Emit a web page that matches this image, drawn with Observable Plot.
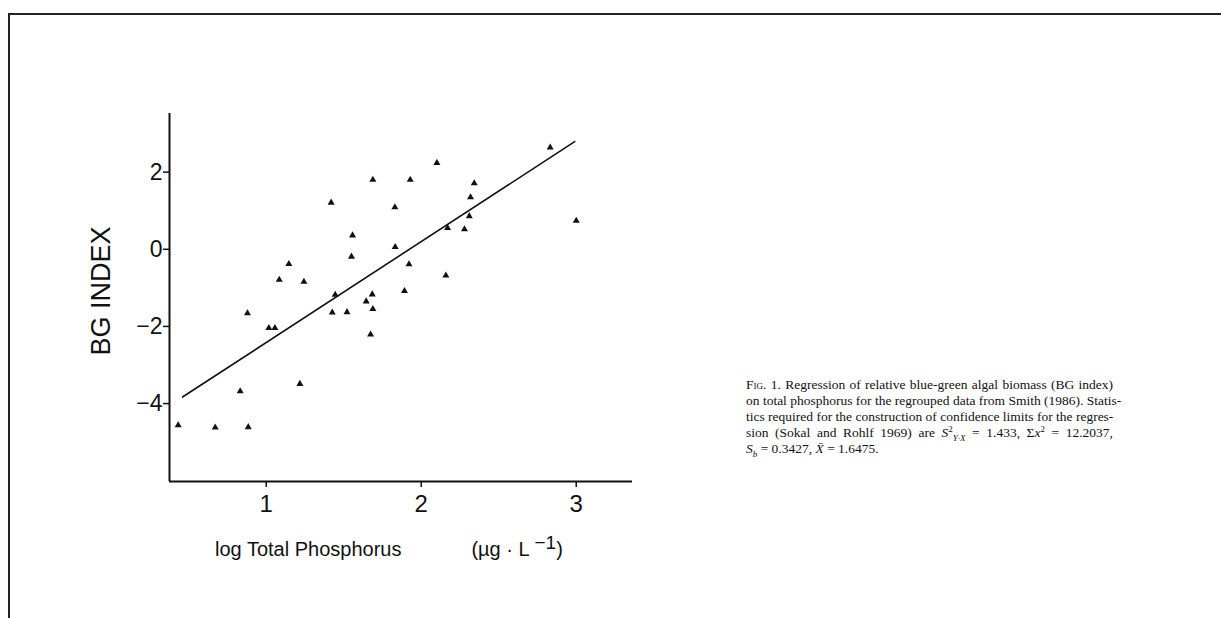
<!DOCTYPE html>
<html>
<head>
<meta charset="utf-8">
<script src="https://cdn.jsdelivr.net/npm/d3@7"></script>
<script src="https://cdn.jsdelivr.net/npm/@observablehq/plot@0.6"></script>
<style>
  html, body { margin: 0; padding: 0; background: white; }
  #wrap { position: relative; width: 1221px; height: 618px; overflow: hidden; background: white; }
  #border { position: absolute; left: 8px; top: 13px; right: -10px; bottom: -10px;
            border-top: 2px solid #222; border-left: 2px solid #222; pointer-events: none; }
  #xlabel { position: absolute; left: 215px; top: 539px; font-family: "Liberation Sans", Arial, sans-serif;
            font-size: 20px; color: #111; white-space: pre; line-height: 1; }
  #xlabel .gap { display: inline-block; width: 70px; }
  #xlabel sup { font-size: 19px; position: relative; top: -7px; vertical-align: baseline; }
  #ylabel { position: absolute; left: 101px; top: 291px; font-family: "Liberation Sans", Arial, sans-serif;
            font-size: 27px; color: #111; white-space: pre; line-height: 1;
            transform: translate(-50%, -50%) rotate(-90deg); }
  #caption { position: absolute; left: 746px; top: 377px; width: 367px;
             font-family: "Liberation Serif", "Times New Roman", serif; font-size: 13.5px;
             line-height: 16px; color: #111; }
  #caption .j { text-align: justify; text-align-last: justify; white-space: nowrap; }
  #caption .sc { font-variant: small-caps; }
  #caption i { font-style: italic; }
  #caption sub, #caption sup { font-size: 9px; line-height: 0; }
</style>
</head>
<body>
<div id="wrap">
  <div id="chart"></div>
  <div id="ylabel">BG INDEX</div>
  <div id="xlabel">log Total Phosphorus<span class="gap"></span>(µg · L <sup>−1</sup>)</div>
  <div id="caption">
    <div class="j"><span class="sc">Fig</span>. 1. Regression of relative blue-green algal biomass (BG index)</div>
    <div class="j">on total phosphorus for the regrouped data from Smith (1986). Statis-</div>
    <div class="j">tics required for the construction of confidence limits for the regres-</div>
    <div class="j">sion (Sokal and Rohlf 1969) are <i>S</i><sup>2</sup><sub><i>Y·X</i></sub> = 1.433, Σ<i>x</i><sup>2</sup> = 12.2037,</div>
    <div><i>S<sub>b</sub></i> = 0.3427, <i>X̄</i> = 1.6475.</div>
  </div>
  <div id="border"></div>
</div>
<script>
// log Total Phosphorus (x) and BG index (y) for each lake group
const logTP = [1.688, 1.419, 1.557, 1.550, 1.146, 1.084, 1.243, 1.445, 1.684, 1.645, 1.688, 0.879,
               1.426, 1.521, 1.017, 1.056, 1.673, 1.217, 0.832, 0.432, 0.671, 0.884, 1.929, 2.101,
               2.832, 2.342, 2.318, 1.830, 2.310, 2.170, 2.279, 1.832, 1.921, 2.159, 1.892, 3.000];
const bgIndex = [1.80, 1.21, 0.36, -0.19, -0.38, -0.79, -0.84, -1.18, -1.17, -1.35, -1.55, -1.66,
                 -1.64, -1.63, -2.04, -2.04, -2.21, -3.49, -3.68, -4.56, -4.62, -4.61, 1.80, 2.24,
                 2.64, 1.71, 1.35, 1.09, 0.86, 0.55, 0.52, 0.06, -0.39, -0.68, -1.08, 0.74];
// fitted regression line end points
const fitX = [0.46, 2.99];
const fitY = [-3.83, 2.79];
// axes
const xDomain = [0.376, 3.363];
const yDomain = [-6.02, 3.52];
const xTicks = [1, 2, 3];
const yTicks = [-4, -2, 0, 2];

const points = logTP.map((x, i) => ({x, y: bgIndex[i]}));
const fit = fitX.map((x, i) => ({x, y: fitY[i]}));

const chart = Plot.plot({
  width: 1221,
  height: 618,
  marginLeft: 169,
  marginRight: 589,
  marginTop: 113,
  marginBottom: 137,
  style: {fontFamily: "'Liberation Sans', Arial, sans-serif", color: "#111", background: "transparent", overflow: "visible"},
  x: {domain: xDomain},
  y: {domain: yDomain},
  marks: [
    Plot.axisX({ticks: xTicks, tickSize: 6, tickPadding: 7, fontSize: 24, strokeWidth: 1.5, label: null, tickFormat: d3.format("d")}),
    Plot.axisY({ticks: yTicks, tickSize: 6, tickPadding: 1, fontSize: 23, strokeWidth: 1.5, label: null, tickFormat: d3.format("d")}),
    Plot.ruleX([xDomain[0]], {stroke: "#111", strokeWidth: 2}),
    Plot.ruleY([yDomain[0]], {stroke: "#111", strokeWidth: 2}),
    Plot.line(fit, {x: "x", y: "y", stroke: "#111", strokeWidth: 1.6}),
    Plot.dot(points, {x: "x", y: "y", symbol: "triangle", r: 2.6, fill: "#111", stroke: "none"})
  ]
});
document.getElementById("chart").appendChild(chart);
</script>
</body>
</html>
